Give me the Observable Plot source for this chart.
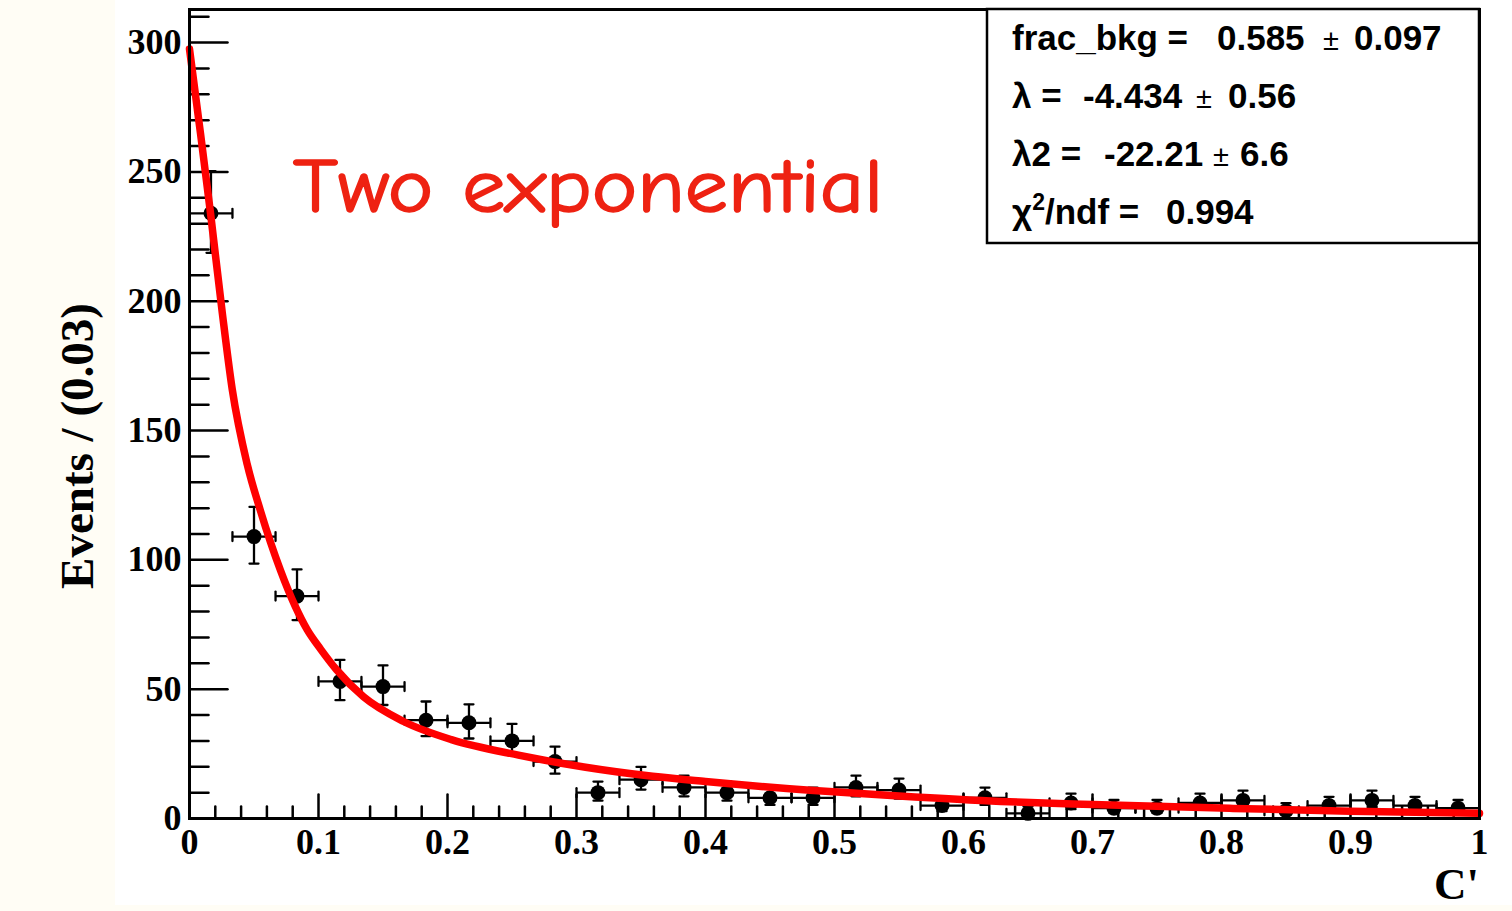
<!DOCTYPE html>
<html>
<head>
<meta charset="utf-8">
<script src="https://cdn.jsdelivr.net/npm/d3@7"></script>
<script src="https://cdn.jsdelivr.net/npm/@observablehq/plot@0.6"></script>
<style>
  html, body { margin: 0; padding: 0; background: #fffdf5; }
  #wrap { position: relative; width: 1512px; height: 911px; background: #fffdf5; overflow: hidden; }
  #paper { position: absolute; left: 115px; top: 0; width: 1397px; height: 905px; background: #ffffff; }
  #chart { position: absolute; left: 0; top: 0; }
</style>
</head>
<body>
<div id="wrap"><div id="paper"></div><div id="chart"></div></div>
<script>
// ---- data ----
const binLow = [0.0000,0.0333,0.0667,0.1000,0.1333,0.1667,0.2000,0.2333,0.2667,0.3000,
                0.3333,0.3667,0.4000,0.4333,0.4667,0.5000,0.5333,0.5667,0.6000,0.6333,
                0.6667,0.7000,0.7333,0.7667,0.8000,0.8333,0.8667,0.9000,0.9333,0.9667];
const binHigh = [0.0333,0.0667,0.1000,0.1333,0.1667,0.2000,0.2333,0.2667,0.3000,0.3333,
                 0.3667,0.4000,0.4333,0.4667,0.5000,0.5333,0.5667,0.6000,0.6333,0.6667,
                 0.7000,0.7333,0.7667,0.8000,0.8333,0.8667,0.9000,0.9333,0.9667,1.0000];
const events = [234,109,86,53,51,38,37,30,22,10,15,12,10,8,8,12,11,5,8,2,6,4,4,6,7,3,5,7,5,4];
const errLow  = [15.29,10.43,9.26,7.26,7.12,6.14,6.06,5.45,4.66,3.11,3.82,3.41,3.11,2.77,2.77,3.41,3.26,2.16,2.77,1.29,2.38,1.91,1.91,2.38,2.58,1.63,2.16,2.58,2.16,1.91];
const errHigh = [16.31,11.47,10.30,8.32,8.18,7.23,7.15,6.55,5.76,4.26,4.95,4.57,4.26,3.94,3.94,4.57,4.42,3.38,3.94,2.64,3.58,3.16,3.16,3.58,3.77,2.92,3.38,3.77,3.38,3.16];

const fitX = [0,0.0085,0.0163,0.0253,0.0331,0.0447,0.055,0.0705,0.082,0.0912,0.1016,0.114,0.135,0.166,0.203,0.255,0.307,0.359,0.4,0.481,0.55,0.629,0.7,0.809,0.9,1.0];
const fitY = [297.5,265,234,196,166,137,119,96,82,73,65.5,57.5,47,37.5,30.5,24.5,19.8,16.3,14.3,10.9,8.7,6.6,5.4,3.9,2.8,2.0];

const xMajorTicks = [0,0.1,0.2,0.3,0.4,0.5,0.6,0.7,0.8,0.9,1];
const xTickLabels = ["0","0.1","0.2","0.3","0.4","0.5","0.6","0.7","0.8","0.9","1"];
const xMinorTicks = [0.02,0.04,0.06,0.08,0.12,0.14,0.16,0.18,0.22,0.24,0.26,0.28,0.32,0.34,0.36,0.38,
                     0.42,0.44,0.46,0.48,0.52,0.54,0.56,0.58,0.62,0.64,0.66,0.68,0.72,0.74,0.76,0.78,
                     0.82,0.84,0.86,0.88,0.92,0.94,0.96,0.98];
const yMajorTicks = [0,50,100,150,200,250,300];
const yTickLabels = ["0","50","100","150","200","250","300"];
const yMinorTicks = [10,20,30,40,60,70,80,90,110,120,130,140,160,170,180,190,210,220,230,240,260,270,280,290,310];

const xTitle = "C'";
const yTitle = "Events / (0.03)";
const annotation = "Two exponential";
const statRows = [
  {name: "frac_bkg =", value: "0.585", err: "0.097"},
  {name: "\u03bb =", value: "-4.434", err: "0.56"},
  {name: "\u03bb2 =", value: "-22.21", err: "6.6"},
  {name: "\u03c7", sup: "2", rest: "/ndf =", value: "0.994"}
];

// ---- tables ----
const hist = events.map((v, i) => ({
  lo: binLow[i], hi: binHigh[i], c: (binLow[i] + binHigh[i]) / 2,
  v, top: v + errHigh[i], bot: v - errLow[i]
}));
const fit = fitX.map((x, i) => ({x, y: fitY[i]}));

const tickShape = {draw(ctx, l) { ctx.moveTo(0, 0); ctx.lineTo(0, -l); }};
const capShape = {draw(ctx, l) { ctx.moveTo(0, -l / 2); ctx.lineTo(0, l / 2); }};

const W = 1512, H = 911;
const chart = Plot.plot({
  width: W, height: H,
  marginLeft: 189, marginRight: 33, marginTop: 9, marginBottom: 93,
  x: {domain: [0, 1]},
  y: {domain: [0, 312.8]},
  style: {background: "transparent", overflow: "visible", color: "black"},
  marks: [
    // axis tick labels
    Plot.axisY({ticks: yMajorTicks, tickSize: 0, tickPadding: 8, tickFormat: (d, i) => yTickLabels[i],
      fontSize: 36, fontWeight: "bold", fontFamily: "Liberation Serif", label: null}),
    Plot.axisX({ticks: xMajorTicks, tickSize: 0, tickPadding: 10, tickFormat: (d, i) => xTickLabels[i],
      fontSize: 36, fontWeight: "bold", fontFamily: "Liberation Serif", label: null}),
    // inner ticks
    Plot.vector(yMajorTicks, {y: d => d, frameAnchor: "left", length: 38, rotate: 90, anchor: "start", shape: tickShape, stroke: "black", strokeWidth: 2.5}),
    Plot.vector(yMinorTicks, {y: d => d, frameAnchor: "left", length: 19, rotate: 90, anchor: "start", shape: tickShape, stroke: "black", strokeWidth: 2.5}),
    Plot.vector(xMajorTicks, {x: d => d, frameAnchor: "bottom", length: 24, rotate: 0, anchor: "start", shape: tickShape, stroke: "black", strokeWidth: 2.5}),
    Plot.vector(xMinorTicks, {x: d => d, frameAnchor: "bottom", length: 12, rotate: 0, anchor: "start", shape: tickShape, stroke: "black", strokeWidth: 2.5}),
    // error bars
    Plot.ruleX(hist, {x: "c", y1: "bot", y2: "top", stroke: "black", strokeWidth: 2.3}),
    Plot.ruleY(hist, {y: "v", x1: "lo", x2: "hi", stroke: "black", strokeWidth: 2.3}),
    Plot.vector(hist, {x: "c", y: "top", length: 9, rotate: 90, anchor: "start", shape: capShape, stroke: "black", strokeWidth: 2.3}),
    Plot.vector(hist, {x: "c", y: "bot", length: 9, rotate: 90, anchor: "start", shape: capShape, stroke: "black", strokeWidth: 2.3}),
    Plot.vector(hist, {x: "lo", y: "v", length: 9, rotate: 0, anchor: "start", shape: capShape, stroke: "black", strokeWidth: 2.3}),
    Plot.vector(hist, {x: "hi", y: "v", length: 9, rotate: 0, anchor: "start", shape: capShape, stroke: "black", strokeWidth: 2.3}),
    Plot.dot(hist, {x: "c", y: "v", r: 7.5, fill: "black", stroke: "none"}),
    // fit curve
    Plot.line(fit, {x: "x", y: "y", stroke: "#ff0000", strokeWidth: 7.5, curve: "monotone-x"}),
    // frame
    Plot.frame({stroke: "black", strokeWidth: 3})
  ]
});
document.getElementById("chart").appendChild(chart);

// ---- annotations ----
const svg = d3.select(chart);
// y axis title
svg.append("text")
  .attr("transform", "translate(93,446) rotate(-90)")
  .attr("text-anchor", "middle")
  .attr("font-family", "Liberation Serif").attr("font-weight", "bold").attr("font-size", 47)
  .attr("fill", "black").text(yTitle);
// x axis title
svg.append("text")
  .attr("x", 1479).attr("y", 899).attr("text-anchor", "end")
  .attr("font-family", "Liberation Serif").attr("font-weight", "bold").attr("font-size", 45)
  .attr("fill", "black").text(xTitle);
// red annotation
svg.append("text")
  .attr("x", 293).attr("y", 212).attr("text-anchor", "start")
  .attr("font-family", "'Comic Sans MS', 'Comic Neue', 'DejaVu Sans', sans-serif")
  .attr("font-size", 76).attr("fill", "#ee2212")
  .attr("stroke", "#ee2212").attr("stroke-width", 1.6)
  .attr("textLength", 590).attr("lengthAdjust", "spacingAndGlyphs")
  .text(annotation);
// stats box
const box = svg.append("g").attr("text-anchor", "start");
box.append("rect").attr("x", 987).attr("y", 9).attr("width", 492).attr("height", 234)
  .attr("fill", "white").attr("stroke", "black").attr("stroke-width", 2.5);
const rowBase = [50, 108, 166, 224];
const valX = [1217, 1083, 1104, 1166];
const pmX = [1323, 1196, 1213];
const errX = [1354, 1228, 1240];
const sansB = (sel) => sel.attr("text-anchor", "start").attr("font-family", "Liberation Sans").attr("font-weight", "bold").attr("font-size", 35).attr("fill", "black");
statRows.forEach((r, i) => {
  const t = box.append("text").attr("x", 1012).attr("y", rowBase[i]).call(sansB);
  if (r.sup) {
    t.append("tspan").text(r.name);
    t.append("tspan").attr("dy", -14).attr("font-size", 23).text(r.sup);
    t.append("tspan").attr("dy", 14).text(r.rest);
  } else {
    t.text(r.name);
  }
  box.append("text").attr("x", valX[i]).attr("y", rowBase[i]).call(sansB).text(r.value);
  if (r.err) {
    box.append("text").attr("x", pmX[i]).attr("y", rowBase[i]).attr("text-anchor", "start")
      .attr("font-family", "Liberation Sans").attr("font-size", 29).attr("fill", "black").text("\u00b1");
    box.append("text").attr("x", errX[i]).attr("y", rowBase[i]).call(sansB).text(r.err);
  }
});
</script>
</body>
</html>
